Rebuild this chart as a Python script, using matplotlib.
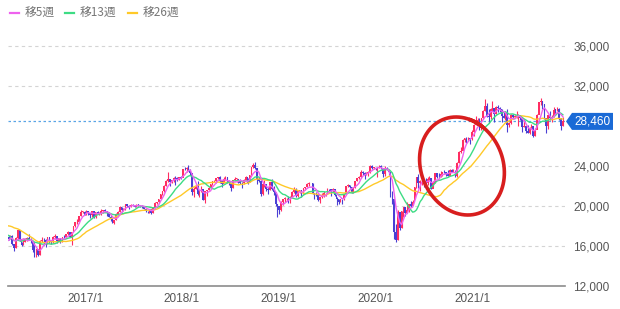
import numpy as np
import pandas as pd
import matplotlib
matplotlib.use("Agg")
import matplotlib.pyplot as plt
import matplotlib.dates as mdates
from matplotlib.patches import Polygon, PathPatch
from matplotlib.path import Path
from matplotlib.lines import Line2D
from matplotlib.transforms import IdentityTransform

# ---------------- data: weekly closes (Friday) ----------------
close_2015 = [17880, 17725, 18438, 18291, 18825, 19083, 19265, 19597, 19879, 19884,
              19504, 19230, 18986, 18769]
close_2016 = [19034,
              17698, 17147, 16958, 17518, 16820, 14953, 15967, 16188, 17015, 16939,
              16725, 17003, 16164, 15822, 16849, 17573, 16666, 16106, 16412, 16736,
              16835, 16642, 16601, 15600, 14952, 15682, 15107, 16497, 16627, 16569,
              16254, 16920, 16546, 16361, 16926, 16965, 16519, 16754, 16450, 16860,
              16856, 17185, 17446, 16905, 17374, 17968, 18381, 18426, 18996, 19401,
              19428, 19114]
close_2017 = [19454, 19287, 19137, 19467, 18918, 19379, 19235, 19284, 19469, 19605,
              19522, 19263, 18909, 18665, 18336, 18621, 19197, 19446, 19884, 19591,
              19687, 20178, 20013, 19943, 20133, 20033, 19929, 20119, 20100, 19960,
              19952, 19730, 19470, 19453, 19692, 19275, 19910, 20296, 20356, 20691,
              21155, 21457, 22008, 22540, 22681, 22397, 22551, 22819, 22811, 22553,
              22903, 22765]
close_2018 = [23715, 23654, 23808, 23632, 23275, 21383, 21720, 21893, 21182, 21470,
              21677, 20618, 21454, 21568, 21779, 22163, 22468, 22473, 22758, 22930,
              22451, 22171, 22695, 22852, 22517, 22305, 21788, 22597, 22698, 22713,
              22525, 22298, 22270, 22601, 22865, 22307, 23095, 23870, 24120, 23784,
              22695, 22532, 21185, 22244, 22250, 21680, 21647, 22351, 21679, 21375,
              20166, 20015]
close_2019 = [19562, 20360, 20666, 20774, 20788, 20333, 20901, 21426, 21603, 21026,
              21451, 21627, 21206, 21807, 21871, 22200, 22259, None, 21345, 21250,
              21117, 20601, 20885, 21117, 21259, 21276, 21746, 21686, 21467, 21658,
              21088, 20685, 20419, 20711, 20704, 21200, 21988, 22079, 21879, 21410,
              21799, 22493, 22800, 22851, 23392, 23303, 23113, 23294, 23354, 24023,
              23817, 23838]
close_2020 = [23657, 23851, 24041, 23827, 23205, 23828, 23688, 23387, 21143, 20750,
              17431, 16553, 19389, 17820, 19499, 19897, 19262, 19619, 20179, 20037,
              20388, 21878, 22864, 22306, 22479, 22512, 22306, 22291, 22697, 22751,
              21710, 22329, 23289, 22920, 22883, 23205, 23406, 23360, 23205, 23030,
              23620, 23411, 23517, 22977, 24325, 25385, 25527, 26645, 26751, 26652,
              26763, 26657]
close_2021 = [27444, 28139, 28519, 28631, 27663, 28779, 29520, 30018, 28966, 28864,
              29718, 29792, 29177, 29854, 29768, 29683, 29021, 28813, 29358, 28085,
              28318, 29149, 28942, 28949, 28964, 29066, 28783, 27940, 28003, 27548,
              27284, 27820, 27977, 27013, 27641, 29128, 30382, 30500, 30249, 28771,
              28049, 29069, 28805, 28893, 29612, 29610, 29746, 28752, 28030, 28460]

# weekly highs / lows for the displayed weeks (from 2016-03-18)
high_2016 = [17120, 17100, 17130, 16200, 16910, 17610, 17610, 16370, 16700, 16790,
             16900, 17250, 16760, 16440, 16390, 15740, 15650, 16600, 16880, 16830,
             16700, 16950, 16860, 16600, 16960, 17160, 16700, 16850, 16750, 16900,
             17080, 17240, 17480, 17440, 17430, 18000, 18400, 18750, 19030, 19590,
             19490, 19460]
low_2016 = [16630, 16720, 16100, 15470, 15820, 16640, 16530, 15980, 16090, 16390,
            16530, 16560, 16300, 15400, 14860, 14860, 15000, 15110, 16400, 16080,
            15930, 16250, 16300, 16250, 16350, 16730, 16350, 16490, 16300, 16450,
            16760, 16840, 17150, 16880, 16110, 17470, 17950, 18250, 18270, 19000,
            19290, 19060]
high_2017 = [19620, 19490, 19200, 19510, 19460, 19400, 19520, 19450, 19670, 19650,
             19670, 19490, 19360, 19100, 18800, 18650, 19290, 19460, 19960, 19900,
             19760, 20240, 20180, 20080, 20230, 20200, 20120, 20200, 20200, 20110,
             20080, 20000, 19750, 19510, 19700, 19580, 19950, 20420, 20400, 20740,
             21190, 21460, 22060, 22580, 23380, 22700, 22610, 22880, 22990, 22950,
             22950, 23000]
low_2017 = [19110, 19090, 18810, 18890, 18830, 18800, 19180, 19140, 19120, 19270,
            19400, 18990, 18880, 18520, 18330, 18220, 18650, 19190, 19440, 19450,
            19490, 19560, 19900, 19690, 19950, 19970, 19880, 19900, 19990, 19940,
            19850, 19720, 19440, 19290, 19280, 19240, 19270, 19900, 20250, 20350,
            20690, 21150, 21450, 21990, 22400, 21970, 22300, 22410, 22120, 22500,
            22650, 22750]
high_2018 = [23730, 23950, 23950, 24130, 23690, 23100, 21890, 22150, 22500, 21520,
             21970, 21590, 21480, 21650, 21930, 22200, 22500, 22560, 22770, 22950,
             23050, 22520, 22880, 22970, 22880, 22600, 22310, 22630, 22950, 22800,
             22720, 22700, 22420, 22660, 22970, 22850, 23100, 23900, 24290, 24450,
             23800, 22950, 22650, 22400, 22590, 22170, 21900, 22450, 22700, 22000,
             21400, 20240]
low_2018 = [23070, 23600, 23370, 23510, 23140, 21080, 20950, 21690, 21100, 20940,
            21390, 20570, 20350, 21050, 21600, 21730, 22080, 22400, 22350, 22690,
            22310, 21930, 22260, 22650, 22280, 22150, 21460, 21800, 22480, 22380,
            22300, 22200, 21850, 22200, 22600, 22170, 22370, 23100, 23760, 23720,
            22200, 22420, 20970, 21150, 21880, 21500, 21240, 21650, 21630, 21130,
            20000, 18950]
high_2019 = [20050, 20500, 20700, 20900, 20840, 20980, 21020, 21470, 21860, 21820,
             21480, 21650, 21440, 21830, 21900, 22280, 22370, None, 22260, 21350,
             21450, 21300, 20900, 21260, 21500, 21340, 21780, 21750, 21700, 21820,
             21720, 20900, 20690, 20730, 20750, 21220, 22020, 22250, 22100, 21900,
             21850, 22500, 22830, 22980, 23600, 23520, 23400, 23450, 23500, 24100,
             24090, 23930]
low_2019 = [19240, 19530, 20100, 20400, 20460, 20280, 20300, 20900, 21300, 20940,
            20950, 21300, 20900, 21200, 21600, 21870, 21990, None, 21250, 20750,
            21000, 20550, 20290, 20850, 20900, 21000, 21270, 21450, 20990, 21450,
            20960, 20110, 20180, 20400, 20170, 20600, 21200, 21900, 21800, 21280,
            21350, 21800, 22500, 22700, 22850, 23100, 22730, 23100, 23050, 23300,
            23700, 23750]
high_2020 = [23850, 23900, 24120, 24120, 23550, 23990, 23880, 23640, 23380, 21480,
             20350, 18180, 19560, 19090, 19500, 19920, 19850, 20360, 20180, 20500,
             20600, 21950, 22900, 23180, 22650, 22850, 22720, 22800, 22870, 23000,
             22800, 22500, 23340, 23210, 23280, 23460, 23450, 23600, 23420, 23570,
             23720, 23720, 23670, 23600, 24400, 25520, 25950, 26710, 26850, 26890,
             26900, 26800]
low_2020 = [23600, 22950, 23820, 23700, 22890, 22970, 23630, 23070, 20920, 20250,
            16690, 16360, 16650, 17650, 17800, 18900, 19000, 19260, 19370, 19900,
            20130, 20700, 21800, 21800, 21530, 22100, 21900, 22100, 22150, 22590,
            21670, 21900, 22320, 22840, 22800, 22890, 23000, 23300, 23050, 23020,
            23070, 23400, 23400, 22950, 22950, 24280, 25300, 25600, 26430, 26350,
            26500, 26200]
high_2021 = [27600, 28200, 28980, 28820, 28850, 28840, 29560, 30720, 30290, 29670,
             29770, 30490, 29800, 30000, 30100, 29900, 29700, 29400, 29400, 29700,
             28450, 29200, 29250, 29120, 29480, 29170, 29100, 28900, 28700, 28000,
             28100, 27900, 28200, 27950, 27800, 29200, 30400, 30800, 30500, 30250,
             28800, 29100, 29500, 29100, 29900, 29700, 29900, 29800, 28800, 28900]
low_2021 = [26650, 27000, 28100, 28200, 27630, 27600, 28700, 29500, 28950, 28300,
            28730, 29500, 28380, 29200, 29400, 29400, 28400, 28800, 28600, 27450,
            27900, 28200, 28700, 28800, 28800, 28000, 28600, 27400, 27950, 27330,
            27270, 27250, 27700, 26950, 27000, 27700, 29300, 30100, 29700, 28700,
            27300, 27700, 28600, 28400, 28900, 29100, 29500, 28600, 27600, 28000]

first_week = "2015-09-25"
display_start = "2016-03-18"
current_price = 28460
ma_windows = [5, 13, 26]
ma_labels = ["移5週", "移13週", "移26週"]
ma_colors = ["#ee62ee", "#3ddc84", "#ffc928"]
year_ticks = ["2017-01-01", "2018-01-01", "2019-01-01", "2020-01-01", "2021-01-01"]
year_labels = ["2017/1", "2018/1", "2019/1", "2020/1", "2021/1"]
y_ticks = [12000, 16000, 20000, 24000, 32000, 36000]

# ---------------- build frame ----------------
closes = close_2015 + close_2016 + close_2017 + close_2018 + close_2019 + close_2020 + close_2021
highs = high_2016 + high_2017 + high_2018 + high_2019 + high_2020 + high_2021
lows = low_2016 + low_2017 + low_2018 + low_2019 + low_2020 + low_2021
dates = pd.date_range(first_week, periods=len(closes), freq="W-FRI")
df = pd.DataFrame({"close": [np.nan if v is None else float(v) for v in closes]}, index=dates)
n_pre = int((df.index < pd.Timestamp(display_start)).sum())
df["high"] = [np.nan] * n_pre + [np.nan if v is None else v for v in highs]
df["low"] = [np.nan] * n_pre + [np.nan if v is None else v for v in lows]
df = df.dropna(subset=["close"])
df["open"] = df["close"].shift(1)
for w in ma_windows:
    df[f"ma{w}"] = df["close"].rolling(w).mean()
vis = df[df.index >= pd.Timestamp(display_start)]

# ---------------- figure ----------------
W, H = 620, 309
fig = plt.figure(figsize=(W / 100, H / 100), dpi=100)
ax = fig.add_axes([8 / W, (H - 286) / H, (565 - 8) / W, (286 - 36) / H])

x0 = mdates.date2num(pd.Timestamp("2016-03-16"))
x1 = mdates.date2num(pd.Timestamp("2021-12-18"))
ax.set_xlim(x0, x1)
ax.set_ylim(12000, 37000)

# grid lines
for v in y_ticks[1:]:
    ax.axhline(v, color="#d4d4d4", lw=0.8, ls=(0, (3, 3)), zorder=0)

# candles
xs = mdates.date2num(vis.index)
o = vis["open"].values
c = vis["close"].values
up = c >= o
col = np.where(up, "#ff2d62", "#4a3fd4")
ax.vlines(xs, vis["low"].values, vis["high"].values, colors=col, lw=0.8, zorder=2)
body_h = np.maximum(np.abs(c - o), 60)
ax.bar(xs, body_h, bottom=np.minimum(o, c), width=6, color=col, linewidth=0, zorder=2)

# moving averages
for w, colr in zip(ma_windows[::-1], ma_colors[::-1]):
    ax.plot(xs, vis[f"ma{w}"].values, color=colr, lw=1.0, zorder=3)

# current price line
ax.axhline(current_price, color="#5aa5e6", lw=0.9, ls=(0, (2, 2)), zorder=1)

# axes styling
for s in ["top", "left", "right"]:
    ax.spines[s].set_visible(False)
ax.spines["bottom"].set_color("#8c8c8c")
ax.spines["bottom"].set_linewidth(1.2)
ax.yaxis.tick_right()
ax.set_yticks(y_ticks)
ax.set_yticklabels([f"{v:,}" for v in y_ticks])
ax.set_xticks([mdates.date2num(pd.Timestamp(d)) for d in year_ticks])
ax.set_xticklabels(year_labels)
ax.tick_params(axis="y", length=0, pad=6, labelsize=8.5, labelcolor="#555555")
ax.tick_params(axis="x", length=0, pad=5, labelsize=8.5, labelcolor="#555555")
for lab in ax.get_xticklabels() + ax.get_yticklabels():
    lab.set_fontfamily("Liberation Sans")

fig.canvas.draw()

# price tag
_, py = ax.transData.transform((x1, current_price))
tx = ax.transAxes.transform((1, 0))[0]
pts = [(tx + 1, py), (tx + 7, py + 8.5), (tx + 48, py + 8.5), (tx + 48, py - 8.5), (tx + 7, py - 8.5)]
fig.add_artist(Polygon(pts, closed=True, transform=IdentityTransform(), fc="#1a6ad6", ec="none"))
fig.text(tx + 9, py, f"{current_price:,}", transform=IdentityTransform(), color="white",
         fontsize=8.5, va="center", ha="left", family="Liberation Sans")

# red hand-drawn circle annotation
cx, cy = ax.transData.transform((mdates.date2num(pd.Timestamp("2020-11-24")), 24000))
t = np.linspace(0.9, 0.9 + 2 * np.pi + 0.35, 200)
a, b, sh = 42, 49, 0.12
ex = cx + a * np.cos(t) - sh * b * np.sin(t)
ey = cy + b * np.sin(t)
fig.add_artist(PathPatch(Path(np.column_stack([ex, ey])), transform=IdentityTransform(),
                         fill=False, ec="#d81e1e", lw=2.6, capstyle="round", zorder=10))

# legend
leg_x = [10, 65, 128]
for lx, lab, colr in zip(leg_x, ma_labels, ma_colors):
    fig.add_artist(Line2D([lx / W, (lx + 9) / W], [1 - 13 / H, 1 - 13 / H], color=colr, lw=1.6))
    fig.text((lx + 15) / W, 1 - 13.5 / H, lab, fontsize=8.5, color="#777777", va="center", ha="left",
             family=["Noto Sans CJK JP", "DejaVu Sans"])

fig.savefig("out.png", dpi=100)
